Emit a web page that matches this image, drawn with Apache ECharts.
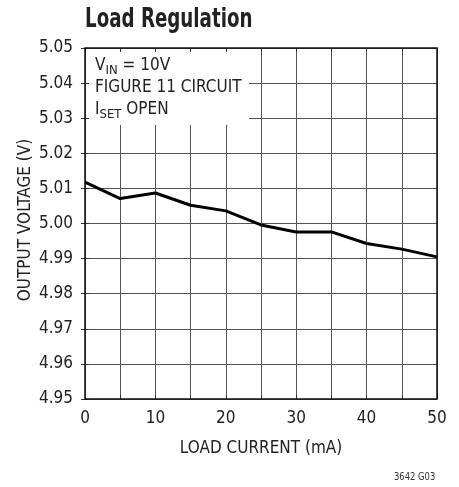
<!DOCTYPE html>
<html><head><meta charset="utf-8">
<script src="https://cdn.jsdelivr.net/npm/echarts@6/dist/echarts.min.js"></script>
<style>html,body{margin:0;padding:0;background:#fff}#c{width:459px;height:487px}</style>
</head><body><div id="c"></div>
<script>
var loadCurrent = [0, 5, 10, 15, 20, 25, 30, 35, 40, 45, 50];
var outputVoltage = [5.0118, 5.0071, 5.0087, 5.0052, 5.0036, 4.9996, 4.9976, 4.9976, 4.9943, 4.9927, 4.9905];
var yTicks = [4.95, 4.96, 4.97, 4.98, 4.99, 5.00, 5.01, 5.02, 5.03, 5.04, 5.05];
var xTicks = [0, 10, 20, 30, 40, 50];

var FONT = "'Liberation Sans Narrow','DejaVu Sans Condensed',sans-serif";
var chart = echarts.init(document.getElementById('c'));
var G = {left: 85, top: 48, width: 352, height: 351};

var baseX = {type: 'value', min: 0, max: 50, interval: 5, gridIndex: 0};
var baseY = {type: 'value', min: 4.95, max: 5.05, interval: 0.01, gridIndex: 0};

var data = loadCurrent.map(function (x, i) { return [x, outputVoltage[i]]; });

chart.setOption({
  animation: false,
  backgroundColor: '#fff',
  grid: [{left: G.left, top: G.top, width: G.width, height: G.height, containLabel: false}],
  xAxis: [
    Object.assign({}, baseX, {
      z: 0,
      axisLine: {show: false}, axisTick: {show: false}, axisLabel: {show: false},
      splitLine: {show: true, lineStyle: {color: '#555', width: 1}}
    }),
    Object.assign({}, baseX, {
      z: 3, position: 'bottom',
      axisLine: {show: false},
      axisTick: {show: true, inside: true, length: 4, lineStyle: {color: '#333'}},
      splitLine: {show: false},
      axisLabel: {
        show: true, margin: 11, color: '#222', fontFamily: FONT, fontSize: 17,
        formatter: function (v) { return xTicks.indexOf(v) >= 0 ? String(v) : ''; }
      },
      name: 'LOAD CURRENT (mA)', nameLocation: 'middle', nameGap: 41,
      nameTextStyle: {fontFamily: FONT, fontSize: 17, color: '#222'}
    }),
    Object.assign({}, baseX, {
      z: 3, position: 'top',
      axisLine: {show: false},
      axisTick: {show: true, inside: true, length: 4, lineStyle: {color: '#333'}},
      splitLine: {show: false}, axisLabel: {show: false}
    })
  ],
  yAxis: [
    Object.assign({}, baseY, {
      z: 0,
      axisLine: {show: false}, axisTick: {show: false}, axisLabel: {show: false},
      splitLine: {show: true, lineStyle: {color: '#555', width: 1}}
    }),
    Object.assign({}, baseY, {
      z: 3, position: 'left',
      axisLine: {show: false},
      axisTick: {show: true, inside: true, length: 4, lineStyle: {color: '#333'}},
      splitLine: {show: false},
      axisLabel: {
        show: true, margin: 12, color: '#222', fontFamily: FONT, fontSize: 17,
        formatter: function (v) { return v.toFixed(2); }
      }
    }),
    Object.assign({}, baseY, {
      z: 3, position: 'right',
      axisLine: {show: false},
      axisTick: {show: true, inside: true, length: 4, lineStyle: {color: '#333'}},
      splitLine: {show: false}, axisLabel: {show: false}
    })
  ],
  series: [{
    type: 'line', xAxisIndex: 0, yAxisIndex: 0, z: 4,
    data: data, symbol: 'none',
    lineStyle: {color: '#000', width: 3}
  }],
  graphic: [
    {type: 'text', z: 6, x: 85, y: 7, scaleX: 0.78,
     style: {text: 'Load Regulation', fontFamily: FONT, fontWeight: 'bold', fontSize: 26,
             fill: '#222', textVerticalAlign: 'top'}},
    {type: 'text', z: 6, x: 26, y: 220, rotation: Math.PI / 2,
     style: {text: 'OUTPUT VOLTAGE (V)', fontFamily: FONT, fontSize: 17, fill: '#222',
             textAlign: 'center', textVerticalAlign: 'middle'}},
    {type: 'rect', z: 1, shape: {x: G.left + 1, y: G.top + 1, width: 163, height: 76},
     style: {fill: '#fff'}},
    {type: 'rect', z: 5, shape: {x: G.left, y: G.top, width: G.width, height: G.height},
     style: {fill: 'none', stroke: '#111', lineWidth: 1.5}},
    {type: 'text', z: 6, left: 95, top: 55,
     style: {
       text: '{m|V}{s|IN}{m| = 10V}\n{m|FIGURE 11 CIRCUIT}\n{m|I}{s|SET}{m| OPEN}',
       fill: '#222', lineHeight: 22,
       rich: {
         m: {fontFamily: FONT, fontSize: 17, fill: '#222', lineHeight: 22},
         s: {fontFamily: FONT, fontSize: 13, fill: '#222', lineHeight: 22, verticalAlign: 'bottom', padding: [6, 0, 0, 0]}
       }
     }},
    {type: 'text', z: 6, x: 394, y: 472, scaleX: 0.85,
     style: {text: '3642 G03', fontFamily: FONT, fontSize: 11, fill: '#333', textVerticalAlign: 'top'}}
  ]
});
</script></body></html>
